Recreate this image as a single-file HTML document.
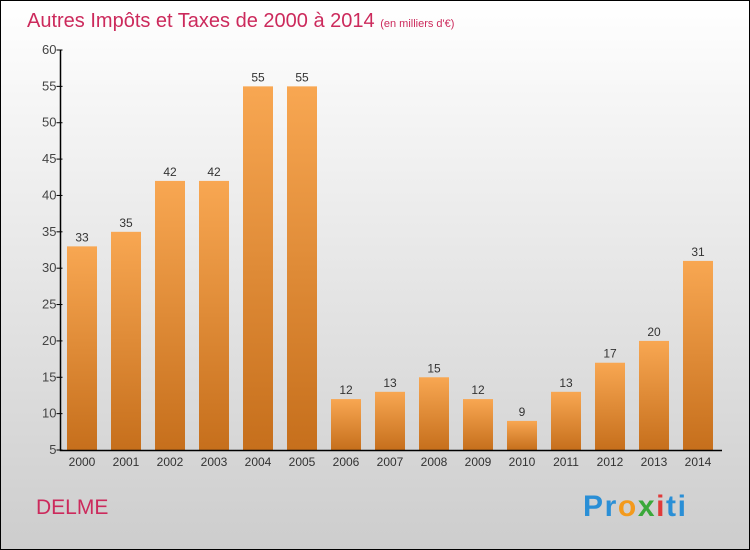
<!DOCTYPE html>
<html><head><meta charset="utf-8"><style>
body{margin:0}
svg{display:block;font-family:"Liberation Sans",sans-serif}
</style></head><body>
<svg width="750" height="550">
<defs>
<linearGradient id="bg" x1="0" y1="0" x2="0" y2="1"><stop offset="0" stop-color="#ffffff"/><stop offset="1" stop-color="#cdcdcd"/></linearGradient>
<linearGradient id="bar" x1="0" y1="0" x2="0" y2="1"><stop offset="0" stop-color="#f8a752"/><stop offset="1" stop-color="#c66f1c"/></linearGradient>
</defs>
<rect x="0.5" y="0.5" width="749" height="549" fill="url(#bg)" stroke="#000"/>
<text x="27" y="27" font-size="20" fill="#cc2a5c">Autres Impôts et Taxes de 2000 à 2014 <tspan font-size="11">(en milliers d'€)</tspan></text>
<g id="bars"></g>
<g id="axes"></g>
<text x="36" y="514" font-size="21" fill="#cc2a5c">DELME</text>
<text x="583" y="516" font-size="30" font-weight="bold" textLength="103"><tspan fill="#2a8fd6">Pr</tspan><tspan fill="#f39a1c">o</tspan><tspan fill="#3aa83a">x</tspan><tspan fill="#e03a3a">i</tspan><tspan fill="#2a8fd6">ti</tspan></text>
</svg>
<script>
const years=["2000","2001","2002","2003","2004","2005","2006","2007","2008","2009","2010","2011","2012","2013","2014"];
const values=[33,35,42,42,55,55,12,13,15,12,9,13,17,20,31];
const yTicks=[5,10,15,20,25,30,35,40,45,50,55,60];
const NS="http://www.w3.org/2000/svg";
const yMin=5,yMax=60,y0=450,y1=50,xL=60.5,x0=82,step=44,bw=30;
const ys=v=>y0-(v-yMin)/(yMax-yMin)*(y0-y1);
const xs=i=>x0+i*step;
function mk(tag,attrs,parent){const e=document.createElementNS(NS,tag);for(const k in attrs)e.setAttribute(k,attrs[k]);parent.appendChild(e);return e;}
const gb=document.getElementById('bars'),ga=document.getElementById('axes');
values.forEach((v,i)=>{
 const r=mk('rect',{x:xs(i)-bw/2,y:ys(v),width:bw,height:y0-ys(v),fill:'url(#bar)'},gb);
 
 
 const t=mk('text',{x:xs(i),y:ys(v)-5,'font-size':12,fill:'#333','text-anchor':'middle'},gb);
 t.textContent=v;
 
 
 const xl=mk('text',{x:xs(i),y:466,'font-size':12,fill:'#333','text-anchor':'middle'},ga);
 xl.textContent=years[i];
 
 
});
const ax=mk('path',{d:`M${xL} ${y1}V${y0+0.5}H722`,stroke:'#000',fill:'none','stroke-width':1.5},ga);


yTicks.forEach(v=>{
 mk('line',{x1:xL-4,x2:xL+2,y1:ys(v),y2:ys(v),stroke:'#000'},ga);
 const t=mk('text',{x:xL-4,y:ys(v)+4,'font-size':13,fill:'#444','text-anchor':'end'},ga);
 t.textContent=v;
 
 
});
</script>
</body></html>
